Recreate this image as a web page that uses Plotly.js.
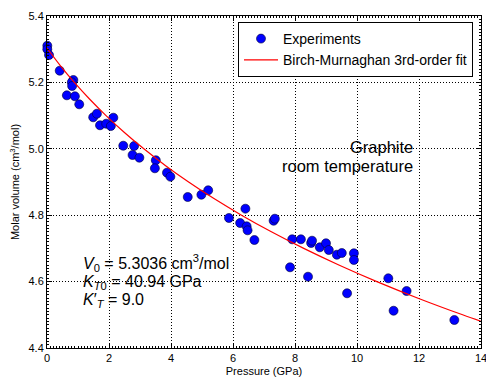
<!DOCTYPE html>
<html>
<head>
<meta charset="utf-8">
<script src="https://cdn.plot.ly/plotly-3.0.1.min.js"></script>
<style>html,body{margin:0;padding:0;background:#fff;}#chart{width:486px;height:380px;}</style>
</head>
<body>
<div id="chart"></div>
<script>
// Experimental data (pressure in GPa, molar volume in cm3/mol)
const expPressure = [0.01, 0.01, 0.065, 0.41, 0.85, 0.80, 0.81, 0.64, 0.90, 1.04,
  1.49, 1.61, 1.71, 1.91, 2.06, 2.14, 2.46, 2.81, 2.76, 2.98,
  3.51, 3.48, 3.87, 3.98, 4.54, 4.98, 5.20, 5.87, 6.40, 6.23,
  6.44, 6.47, 6.69, 7.31, 7.35, 7.84, 7.91, 8.19, 8.52, 8.55,
  8.42, 8.80, 9.00, 9.09, 9.35, 9.51, 9.90, 9.90, 9.68, 11.01,
  11.60, 11.18, 13.14];
const expVolume = [5.3105, 5.2997, 5.2825, 5.2352, 5.2072, 5.2003, 5.1892, 5.1611, 5.1581, 5.1340,
  5.0949, 5.1057, 5.0708, 5.0756, 5.0687, 5.0937, 5.0093, 5.0084, 4.9813, 4.9732,
  4.9654, 4.9413, 4.9280, 4.9160, 4.8548, 4.8617, 4.8750, 4.7916, 4.8196, 4.7765,
  4.7666, 4.7545, 4.7253, 4.7834, 4.7895, 4.6431, 4.7274, 4.7274, 4.7163, 4.7232,
  4.6148, 4.7033, 4.7154, 4.6952, 4.6810, 4.6861, 4.6853, 4.6651, 4.5648, 4.6099,
  4.5717, 4.5123, 4.4843];

// Birch-Murnaghan fit curve (pressure, volume) points
const fitPressure = [0, 0.4352, 0.8817, 1.3707, 1.9050, 2.4882, 3.1235, 3.8154, 4.5681,
  5.3856, 6.2740, 7.2370, 8.2822, 9.4136, 10.6411, 11.970, 13.4069, 14.3258];
const fitVolume = [5.3036, 5.25, 5.2, 5.15, 5.1, 5.05, 5.0, 4.95, 4.9,
  4.85, 4.8, 4.75, 4.7, 4.65, 4.6, 4.55, 4.5, 4.47];

const xTicks = [0, 2, 4, 6, 8, 10, 12, 14];
const yTicks = [4.4, 4.6, 4.8, 5.0, 5.2, 5.4];

const FONT = 'Liberation Sans, Arial, Helvetica, sans-serif';

const traces = [
  {
    x: expPressure, y: expVolume, type: 'scatter', mode: 'markers', name: 'Experiments',
    cliponaxis: false,
    marker: {color: '#0000ff', size: 9, line: {color: '#000033', width: 0.6}}
  },
  {
    x: fitPressure, y: fitVolume, type: 'scatter', mode: 'lines',
    name: 'Birch-Murnaghan 3rd-order fit',
    line: {color: '#ff0000', width: 1.2, shape: 'spline'}
  }
];

const axisCommon = {
  showline: true, linecolor: '#000', linewidth: 1, mirror: 'allticks',
  ticks: 'inside', ticklen: 5, tickcolor: '#000', tickwidth: 1,
  showgrid: true, gridcolor: '#000', griddash: '1px,2px', gridwidth: 1,
  zeroline: false, ticklabeloverflow: 'allow',
  tickfont: {family: FONT, size: 11, color: '#000'}
};

const layout = {
  width: 486, height: 380,
  margin: {l: 47, r: 5, t: 16, b: 32},
  paper_bgcolor: '#fff', plot_bgcolor: '#fff',
  font: {family: FONT, color: '#000'},
  showlegend: true,
  legend: {
    x: 1 - 8/434, xanchor: 'right', y: 1 - 6/332, yanchor: 'top',
    bordercolor: '#000', borderwidth: 1, bgcolor: '#fff',
    font: {family: FONT, size: 14, color: '#000'},
    itemwidth: 34,
    tracegroupgap: 4
  },
  xaxis: Object.assign({}, axisCommon, {
    range: [0, 14], tickmode: 'array', tickvals: xTicks, ticktext: xTicks.map(String),
    minor: {dtick: 0.1, ticks: 'inside', ticklen: 2, tickcolor: '#000', showgrid: false},
    title: {text: 'Pressure (GPa)', font: {family: FONT, size: 11}, standoff: 4}
  }),
  yaxis: Object.assign({}, axisCommon, {
    range: [4.4, 5.4], tickmode: 'array', tickvals: yTicks, ticktext: yTicks.map(v => v.toFixed(1)),
    minor: {dtick: 0.01, ticks: 'inside', ticklen: 2, tickcolor: '#000', showgrid: false},
    title: {text: 'Molar volume (cm<sup>3</sup>/mol)', font: {family: FONT, size: 11}, standoff: 6}
  }),
  annotations: [
    {x: 14 - (481-415)/31, y: 5.4 - (147-16)/332, xref: 'x', yref: 'y', xanchor: 'right', yanchor: 'middle',
     text: 'Graphite', showarrow: false, font: {family: FONT, size: 16.5, color: '#000'}},
    {x: 14 - (481-415)/31, y: 5.4 - (166-16)/332, xref: 'x', yref: 'y', xanchor: 'right', yanchor: 'middle',
     text: 'room temperature', showarrow: false, font: {family: FONT, size: 16.5, color: '#000'}},
    {x: (81-47)/31, y: 5.4 - (263-16)/332, xref: 'x', yref: 'y', xanchor: 'left', yanchor: 'middle',
     text: '<i>V</i><sub>0</sub> = 5.3036 cm<sup>3</sup>/mol', showarrow: false, font: {family: FONT, size: 16, color: '#000'}},
    {x: (81-47)/31, y: 5.4 - (282-16)/332, xref: 'x', yref: 'y', xanchor: 'left', yanchor: 'middle',
     text: '<i>K</i><sub><i>T</i>0</sub> = 40.94 GPa', showarrow: false, font: {family: FONT, size: 16, color: '#000'}},
    {x: (81-47)/31, y: 5.4 - (300-16)/332, xref: 'x', yref: 'y', xanchor: 'left', yanchor: 'middle',
     text: '<i>K</i>′<sub><i>T</i></sub> = 9.0', showarrow: false, font: {family: FONT, size: 16, color: '#000'}}
  ]
};

Plotly.newPlot('chart', traces, layout, {displayModeBar: false, staticPlot: true});
</script>
</body>
</html>
